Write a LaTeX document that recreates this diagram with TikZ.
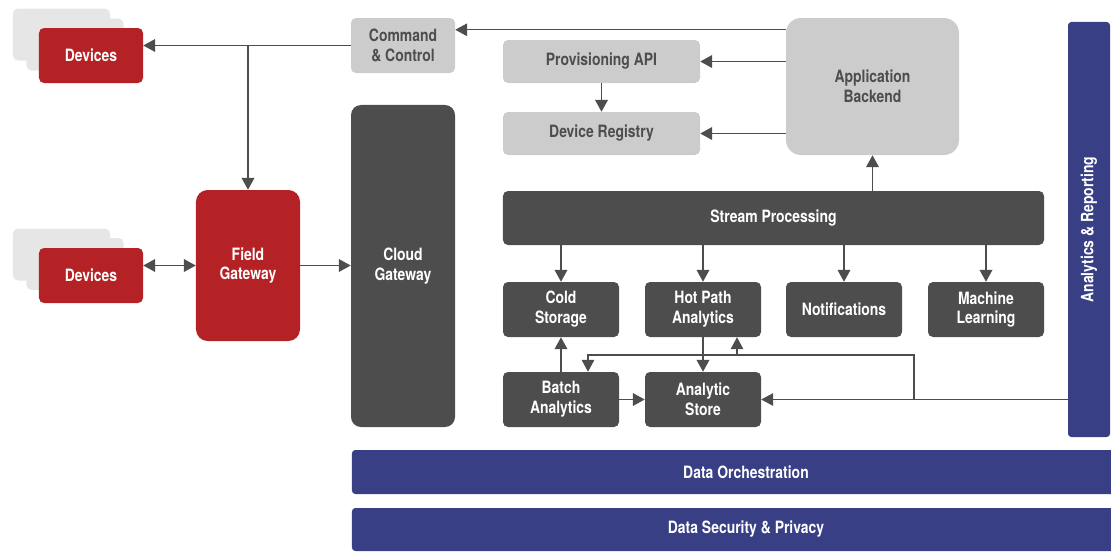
\documentclass[tikz,border=0pt]{standalone}
\usepackage{fontspec}
\setmainfont{TeX Gyre Heros}[FakeStretch=0.82]
\usepackage{xcolor}
\usetikzlibrary{calc,
	positioning,
	arrows.meta}

\definecolor{devred}{HTML}{B52226}
\definecolor{slate}{HTML}{4D4D4D}
\definecolor{silver}{HTML}{CCCCCC}
\definecolor{mist}{HTML}{E6E6E6}
\definecolor{navy}{HTML}{383F85}

\begin{document}
\begin{tikzpicture}[x=0.03cm, y=-0.03cm,
		every node/.style={font=\fontsize{14.5}{17}\selectfont\bfseries, align=center, inner sep=0pt},
		box/.style={rectangle, rounded corners=0.15cm, minimum width=3.12cm, minimum height=1.65cm},
		redbox/.style={box, fill=devred, text=white},
		ghostbox/.style={rectangle, rounded corners=0.15cm, fill=mist, minimum width=2.91cm, minimum height=1.56cm},
		darkbox/.style={box, fill=slate, text=white},
		lightbox/.style={box, fill=silver, text=slate},
		lowbox/.style={darkbox, minimum width=3.48cm},
		bluebar/.style={rectangle, rounded corners=0.1cm, fill=navy, text=white},
		arr/.style={draw=slate, line width=1.5pt, -{Triangle[length=0.36cm, width=0.38cm]}},
		arr2/.style={arr, {Triangle[length=0.36cm, width=0.38cm]}-{Triangle[length=0.36cm, width=0.38cm]}},
		thinarr/.style={arr, line width=0.9pt}]
	\useasboundingbox (0,0) rectangle (1111,551);
	\clip (0,0) rectangle (1111,551);

	% devices
	\node[ghostbox] (dev1b) at (61.5,34.5) {};
	\node[ghostbox] (dev1a) at (75,44.5) {};
	\node[redbox] (dev1) at (91,55.5) {Devices};
	\node[ghostbox] (dev2b) at (61.5,254.5) {};
	\node[ghostbox] (dev2a) at (75,264) {};
	\node[redbox] (dev2) at (91,275.5) {Devices};

	\node[redbox, minimum height=4.53cm, rounded corners=0.35cm] (fgw) at (248,265.5) {Field\\Gateway};
	\node[lightbox] (cc) at (403,45.5) {Command\\\& Control};
	\node[darkbox, minimum height=9.66cm, rounded corners=0.3cm] (cg) at (403,266) {Cloud\\Gateway};

	\node[lightbox, minimum width=5.91cm, minimum height=1.29cm] (prov) at (601.5,61.5) {Provisioning API};
	\node[lightbox, minimum width=5.91cm, minimum height=1.29cm] (reg) at (601.5,133.5) {Device Registry};
	\node[lightbox, minimum width=5.19cm, minimum height=4.11cm, rounded corners=0.45cm] (ab) at (872.5,86.5) {Application\\Backend};

	\node[darkbox, minimum width=16.23cm, minimum height=1.62cm] (sp) at (773.5,218) {Stream Processing};
	\node[lowbox] (cold) at (561,309.5) {Cold\\Storage};
	\node[lowbox] (hot) at (703,309.5) {Hot Path\\Analytics};
	\node[lowbox] (notif) at (844,309.5) {Notifications};
	\node[lowbox] (ml) at (986,309.5) {Machine\\Learning};
	\node[lowbox] (batch) at (561,399.5) {Batch\\Analytics};
	\node[lowbox] (store) at (703,399.5) {Analytic\\Store};

	\node[bluebar, minimum width=1.26cm, minimum height=12.45cm] (ar) at (1089,229.5) {};
	\node[rotate=90, text=white] (arlabel) at (ar) {Analytics \& Reporting};
	\node[bluebar, minimum width=23.64cm, minimum height=1.32cm] (orch) at (746,472) {Data Orchestration};
	\node[bluebar, minimum width=23.64cm, minimum height=1.29cm] (sec) at (746,529.5) {Data Security \& Privacy};

	% connectors
	\coordinate (ccin) at ($(cc.north east)+(0,12)$);
	\draw[thinarr] (ab.west |- ccin) -- (ccin);
	\draw[arr] (cc.west) -- (cc.west -| dev1.east);
	\draw[arr] (cc.west -| fgw.north) -- (fgw.north);
	\draw[arr] (ab.west |- prov.east) -- (prov.east);
	\draw[arr] (ab.west |- reg.east) -- (reg.east);
	\draw[arr] (prov.south) -- (reg.north);
	\draw[arr] (sp.north -| ab.south) -- (ab.south);
	\foreach \n in {cold,hot,notif,ml}
		\draw[arr] (sp.south -| \n.north) -- (\n.north);

	\draw[arr2] (dev2.east |- fgw.west) -- (fgw.west);
	\draw[arr] (fgw.east) -- (fgw.east -| cg.west);

	\draw[arr] (batch.north) -- (cold.south);
	\draw[arr] (batch.east) -- (store.west);
	\draw[arr] (hot.south) -- (store.north);

	% feedback loop from reporting
	\coordinate (tap) at (914,399.5);
	\coordinate (ring) at (914,355);
	\coordinate (batchin) at ($(batch.north)+(27,0)$);
	\coordinate (hotin) at ($(hot.south)+(34,0)$);
	\draw[thinarr] (ar.west |- store.east) -- (store.east);
	\draw[thinarr] (tap) -- (ring) -| (batchin);
	\draw[thinarr] (ring -| hotin) -- (hotin);
\end{tikzpicture}
\end{document}
